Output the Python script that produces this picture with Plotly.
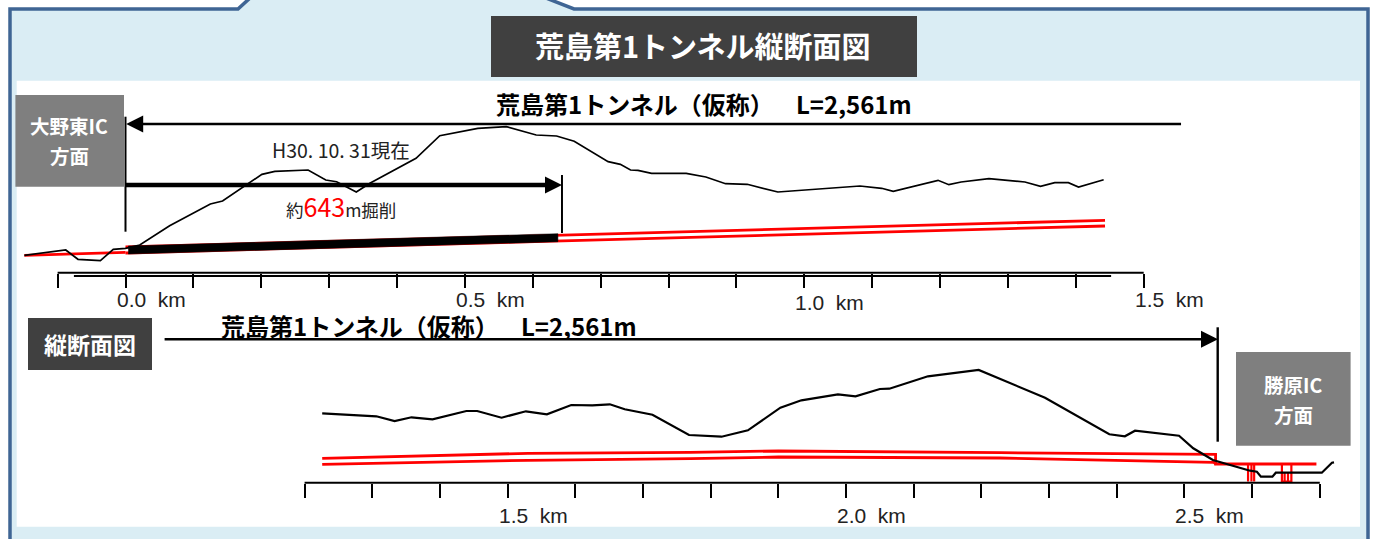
import plotly.graph_objects as go

W, H = 1376, 539
FONT = "Noto Sans CJK JP"

# --- Upper panel (km along the tunnel, height units) ---
upper_ground_km = [-0.149,-0.088,-0.070,-0.037,-0.018,0,0.021,0.065,0.125,0.143,0.201,0.220,0.269,0.295,0.311,0.340,0.360,0.428,0.463,0.519,0.561,0.605,0.635,0.661,0.711,0.729,0.744,0.755,0.775,0.807,0.826,0.855,0.884,0.916,0.961,1.082,1.114,1.131,1.197,1.213,1.231,1.272,1.325,1.348,1.369,1.389,1.404,1.441]
upper_ground_h = [44.7,50,40.7,39.3,50.7,51.7,55,74.3,96,99,125.7,128.7,130,120,118.3,108,116.7,141.7,164.3,171.7,173.3,165,164,158.7,138.3,135.7,130,129.7,126.7,126.7,126.7,123,116.3,115.7,108,114,111.7,108.7,119.7,115.3,118,121.3,118,113.7,117.3,117.3,113,120.3]
upper_crown_km = [0, 1.443]
upper_crown_h = [53, 79.7]
upper_invert_km = [0, 1.443]
upper_invert_h = [47, 74]
approach_km = [-0.149, 0]
approach_h = [44.7, 47.7]
dug_km = [0.004, 0.637, 0.637, 0.004]
dug_h = [54, 66.3, 58.3, 46]
upper_ticks = [-0.1,0,0.1,0.2,0.3,0.4,0.5,0.6,0.7,0.8,0.9,1.0,1.1,1.2,1.3,1.4,1.5]
upper_labels = {0.0: "0.0", 0.5: "0.5", 1.0: "1.0", 1.5: "1.5"}
upper_scale_km = [-0.1, 1.5]
upper_scale2_km = [-0.076, 1.452]
dug_length_km = 0.643
tunnel_start_km = 0.0
upper_arrow_end_km = 1.555

# --- Lower panel ---
lower_ground_km = [1.226,1.306,1.333,1.358,1.389,1.439,1.455,1.491,1.527,1.558,1.594,1.625,1.651,1.673,1.714,1.768,1.816,1.855,1.903,1.934,1.988,2.014,2.050,2.064,2.121,2.196,2.294,2.389,2.412,2.427,2.492,2.513,2.542,2.597,2.607,2.613,2.630,2.635,2.703,2.718,2.721]
lower_ground_h = [113.7,110.7,106,109.7,107.7,116,116,109.3,115.7,112.7,122,121.7,122.7,117.7,112.3,92,90.3,96.7,119.3,126.7,132.7,130.7,138,138.3,150.7,157,129.3,92.7,90.7,96.3,91.3,78.7,67,56.3,55.3,50.3,50.3,54.3,54.3,64.3,64.7]
lower_crown_km = [1.226,1.530,1.770,1.900,2.228,2.546,2.546,2.695]
lower_crown_h = [68.7,73.7,74.7,76,74.3,72.7,63,63]
lower_invert_km = [1.226,1.530,1.770,1.900,2.228,2.543,2.547]
lower_invert_h = [62.7,66.7,68.3,70,69,64.7,63]
pier_km = [2.594,2.594,None,2.599,2.599,None,2.603,2.603,None,2.644,2.644,2.658,2.658,2.644,None,2.648,2.648,None,2.653,2.653]
pier_h = [63,45.5,None,63,45.5,None,63,45.5,None,63,45.5,45.5,63,63,None,55,45.5,None,55,45.5]
lower_ticks = [1.2,1.3,1.4,1.5,1.6,1.7,1.8,1.9,2.0,2.1,2.2,2.3,2.4,2.5,2.6,2.7]
lower_labels = {1.5: "1.5", 2.0: "2.0", 2.5: "2.5"}
lower_scale_km = [1.2, 2.7]

title_text = "荒島第1トンネル縦断面図"
tunnel_name = "荒島第1トンネル（仮称）"
tunnel_length = "L=2,561m"

px = lambda v: v / W
py = lambda v: 1 - v / H

# x axes: px = 125.5 + 678.8*km ; px = 304.6 + 676.8*(km-1.2)
xr1 = [(0 - 125.5) / 678.8, (W - 125.5) / 678.8]
xr2 = [1.2 + (0 - 304.6) / 676.8, 1.2 + (W - 304.6) / 676.8]

fig = go.Figure()
RED = "#FF0000"
def line(x, y, axes, color="black", width=2):
    fig.add_trace(go.Scatter(x=x, y=y, xaxis=axes[0], yaxis=axes[1], mode="lines",
                             line=dict(color=color, width=width, simplify=False),
                             hoverinfo="skip", showlegend=False))
A1, A2 = ("x", "y"), ("x2", "y2")

# upper
line(approach_km, approach_h, A1, RED, 2.8)
line(upper_crown_km, upper_crown_h, A1, RED, 2.8)
line(upper_invert_km, upper_invert_h, A1, RED, 2.8)
line(upper_ground_km, upper_ground_h, A1, "black", 1.7)
fig.add_trace(go.Scatter(x=dug_km, y=dug_h, xaxis="x", yaxis="y", mode="lines", fill="toself",
                         fillcolor="black", line=dict(color="black", width=0.5),
                         hoverinfo="skip", showlegend=False))
line(upper_scale_km, [27.3, 27.3], A1, "black", 2)
line(upper_scale2_km, [24, 24], A1, "black", 2)
# lower
line(lower_crown_km, lower_crown_h, A2, RED, 2.8)
line(lower_invert_km, lower_invert_h, A2, RED, 2.8)
line(pier_km, pier_h, A2, RED, 2.2)
line(lower_ground_km, lower_ground_h, A2, "black", 2.2)
line(lower_scale_km, [44.3, 44.3], A2, "black", 2)

# leader lines
line([tunnel_start_km, tunnel_start_km], [183.3, 68.3], A1, "black", 2)
line([dug_length_km, dug_length_km], [125, 67], A1, "black", 2)
line([tunnel_start_km + 0.015, upper_arrow_end_km], [176, 176], A1, "black", 2.4)
line([tunnel_start_km, dug_length_km - 0.015], [115, 115], A1, "black", 4.5)
line([1.2 + (164.6 - 304.6) / 676.8, 1.2 + (1207 - 304.6) / 676.8], [187.7, 187.7], A2, "black", 2.4)
line([1.2 + (1217.7 - 304.6) / 676.8] * 2, [199.7, 85.3], A2, "black", 2.4)

ann = []
def text(x, y, s, size, color="black", bold=False, family=FONT, xa="center", height=None):
    ann.append(dict(x=px(x), y=py(y), xref="paper", yref="paper", text=f"<b>{s}</b>" if bold else s,
                    showarrow=False, xanchor=xa, yanchor="middle", align="center", height=height,
                    font=dict(family=family, size=size, color=color)))

# arrowheads
def head(xv, yv, axes, ax_shift):
    ann.append(dict(x=xv, y=yv, xref=axes[0], yref=axes[1], ax=ax_shift, ay=0, text="",
                    showarrow=True, arrowhead=2, arrowsize=1, arrowwidth=3.4, arrowcolor="black",
                    standoff=0, startstandoff=0))
head(tunnel_start_km + 0.001, 176, A1, 15)
head(dug_length_km, 115, A1, -15)
head(1.2 + (1218 - 304.6) / 676.8, 187.7, A2, -15)

text(703, 45, title_text, 29, "white", True)
text(494, 103, tunnel_name, 24, "black", True, xa="left")
text(794, 103, tunnel_length, 24, "black", True, xa="left")
text(219, 325, tunnel_name, 24, "black", True, xa="left", height=28)
text(519, 325, tunnel_length, 24, "black", True, xa="left", height=28)
text(69, 126, "大野東IC", 19.5, "white", True)
text(69, 155.5, "方面", 19.5, "white", True)
text(90, 344, "縦断面図", 23, "white", True)
text(1293, 384.5, "勝原IC", 19.5, "white", True)
text(1293, 414, "方面", 19.5, "white", True)
text(341, 150, "H30. 10. 31現在", 19.5, "#222222")
text(341, 206, f'約<span style="color:{RED};font-size:25px">643</span>m掘削', 17.5, "#222222")

for v, s in upper_labels.items():
    ann.append(dict(x=v, y=1 if v != 1.0 else -2, xref="x", yref="y", text=f"{s}  km", showarrow=False, xanchor="left",
                    xshift=-11, yanchor="middle", font=dict(family="Liberation Sans", size=21, color="#222222")))
for v, s in lower_labels.items():
    ann.append(dict(x=v, y=12, xref="x2", yref="y2", text=f"{s}  km", showarrow=False, xanchor="left",
                    xshift=-11, yanchor="middle", font=dict(family="Liberation Sans", size=21, color="#222222")))

def rect(x0, y0, x1, y1, color):
    return dict(type="rect", xref="paper", yref="paper", x0=px(x0), x1=px(x1), y0=py(y0), y1=py(y1),
                fillcolor=color, line=dict(width=0), layer="below")

frame_pts = [(10, 9), (238, 9), (250, -2), (546, -2), (574, 9), (1368, 9), (1368, 545), (10, 545)]
frame_path = "M " + " L ".join(f"{px(a):.5f},{py(b):.5f}" for a, b in frame_pts) + " Z"
shapes = [
    dict(type="path", xref="paper", yref="paper", path=frame_path, fillcolor="#DAEDF4",
         line=dict(color="#3F6594", width=3.5), layer="below"),
    rect(16.7, 80.7, 1360, 526.7, "white"),
    rect(491, 16, 917, 77, "#404040"),
    rect(15.4, 95, 124, 186.7, "#7F7F7F"),
    rect(28, 318, 152, 370, "#404040"),
    rect(1236, 352, 1350.6, 445.7, "#7F7F7F"),
]

def xaxis(rng, ticks, pos):
    return dict(range=rng, domain=[0, 1], anchor="free", position=pos, tickmode="array", tickvals=ticks,
                ticktext=[""] * len(ticks), ticks="outside", ticklen=14, tickwidth=2.2, tickcolor="black",
                showgrid=False, zeroline=False, showline=False, fixedrange=True)

fig.update_layout(
    width=W, height=H, margin=dict(l=0, r=0, t=0, b=0), showlegend=False,
    paper_bgcolor="white", plot_bgcolor="rgba(0,0,0,0)",
    font=dict(family=FONT),
    xaxis=xaxis(xr1, upper_ticks, py(272.7)),
    xaxis2=xaxis(xr2, lower_ticks, py(482.7)),
    yaxis=dict(range=[-25, 300], domain=[py(325), 1], visible=False, fixedrange=True),
    yaxis2=dict(range=[-12, 239], domain=[0, py(288)], visible=False, fixedrange=True),
    shapes=shapes, annotations=ann,
)

fig.write_html("out.html", config=dict(displayModeBar=False),
               post_script="document.body.style.margin='0';document.body.style.overflow='hidden';")
